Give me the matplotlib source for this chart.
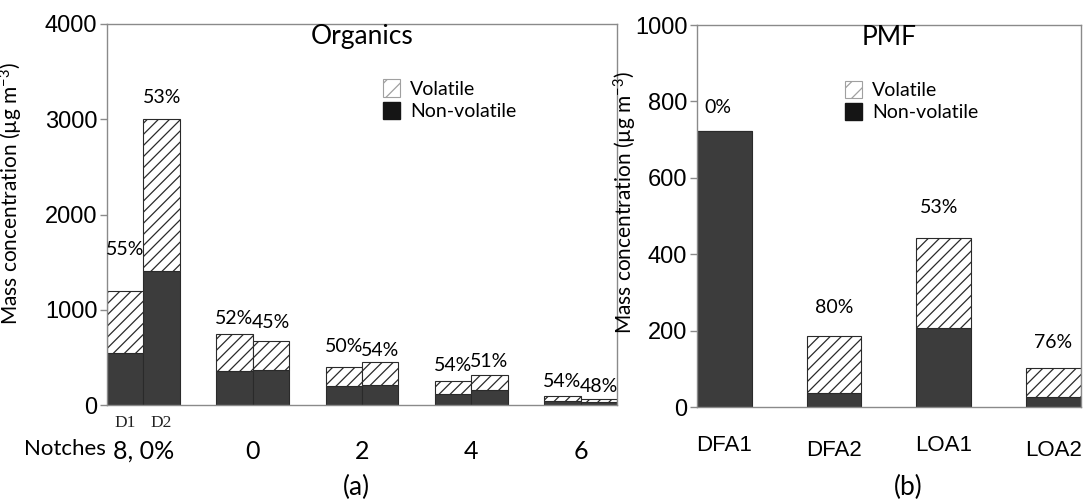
"""
Volatile vs non-volatile organic mass: (a) by notch setting, (b) by PMF factor.
"""
import numpy as np
import matplotlib

matplotlib.use("Agg")
import matplotlib.pyplot as plt
from matplotlib.patches import Patch
from matplotlib.transforms import ScaledTranslation

plt.rcParams["font.family"] = ["Lato", "DejaVu Sans"]
plt.rcParams["mathtext.fontset"] = "custom"
plt.rcParams["mathtext.rm"] = "Lato"
plt.rcParams["mathtext.it"] = "Lato:italic"
plt.rcParams["hatch.linewidth"] = 0.9

# ── data: panel (a) organics ───────────────────────────────────────
org_bar_names = ["D1", "D2"]
org_group_labels = ["8, 0%", "0", "2", "4", "6"]
org_total = [1200, 3000, 742, 675, 402, 448, 252, 315, 98, 63]
org_nonvol = [545, 1410, 355, 372, 200, 206, 116, 155, 45, 33]
org_pct = ["55%", "53%", "52%", "45%", "50%", "54%", "54%", "51%", "54%", "48%"]

# ── data: panel (b) PMF factors ────────────────────────────────────
pmf_names = ["DFA1", "DFA2", "LOA1", "LOA2"]
pmf_total = [722, 187, 442, 103]
pmf_nonvol = [722, 37, 208, 25]
pmf_pct = ["0%", "80%", "53%", "76%"]

DARK = "#3c3c3c"
EDGE = "#2a2a2a"
SPINE = "#8a8a8a"
ylab = "Mass concentration (µg m$^{-3}$)"

fig = plt.figure(figsize=(10.84, 5.0), dpi=100)
ax1 = fig.add_axes([0.0987, 0.19, 0.4705, 0.762])
ax2 = fig.add_axes([0.643, 0.186, 0.354, 0.764])

# ── (a) ────────────────────────────────────────────────────────────
org_total = np.array(org_total, dtype=float)
org_nonvol = np.array(org_nonvol, dtype=float)
xa = np.array([g * 3 + k for g in range(len(org_group_labels)) for k in (0, 1)], dtype=float)

ax1.bar(xa, org_nonvol, width=1.0, color=DARK, edgecolor=EDGE, lw=0.8, zorder=2)
ax1.bar(xa, org_total - org_nonvol, bottom=org_nonvol, width=1.0, color="white",
        edgecolor=EDGE, hatch="///", lw=0.8, zorder=2)

# label offsets above bar tops (pixels)
dy_a = [41, 22, 16, 18, 20, 12, 15, 13, 14, 12]
for x, top, txt, dy in zip(xa, org_total, org_pct, dy_a):
    ax1.annotate(txt, (x, top), xytext=(0, dy * 0.72), textcoords="offset points",
                 ha="center", va="center", fontsize=14, zorder=3)

ax1.set_xlim(-0.5, 13.5)
ax1.set_ylim(0, 4000)
ax1.set_yticks(np.arange(0, 4001, 1000))
ax1.set_xticks(xa[::2] + 0.5)
ax1.set_xticklabels(org_group_labels, fontsize=18)
ax1.set_xticks(xa[:2], minor=True)
ax1.set_xticklabels(org_bar_names, minor=True, fontsize=12.5,
                    fontfamily="Liberation Serif", color="#222222")
ax1.tick_params(axis="x", which="major", length=0, pad=25)
ax1.tick_params(axis="x", which="minor", length=0, pad=7)
ax1.text(-0.53, -0.1155, "Notches", transform=ax1.get_xaxis_transform(),
         ha="right", va="center", fontsize=16)
ax1.text(0.5, 0.966, "Organics", transform=ax1.transAxes, ha="center", va="center",
         fontsize=19)
ax1.text(0.49, -0.216, "(a)", transform=ax1.transAxes, ha="center", va="center",
         fontsize=19)
ax1.set_ylabel(ylab, fontsize=15)
ax1.yaxis.set_label_coords(-0.16, 0.556)

# ── (b) ────────────────────────────────────────────────────────────
pmf_total = np.array(pmf_total, dtype=float)
pmf_nonvol = np.array(pmf_nonvol, dtype=float)
xb = np.arange(len(pmf_names)) + 0.25

ax2.bar(xb, pmf_nonvol, width=0.5, color=DARK, edgecolor=EDGE, lw=0.8, zorder=2)
ax2.bar(xb, pmf_total - pmf_nonvol, bottom=pmf_nonvol, width=0.5, color="white",
        edgecolor=EDGE, hatch="///", lw=0.8, zorder=2)

dy_b = [24, 28, 31, 25]
dx_b = [-7, 0, -5, 0]
for x, top, txt, dy, dx in zip(xb, pmf_total, pmf_pct, dy_b, dx_b):
    ax2.annotate(txt, (x, top), xytext=(dx * 0.72, dy * 0.72), textcoords="offset points",
                 ha="center", va="center", fontsize=14, zorder=3)

ax2.set_xlim(0, 3.5)
ax2.set_ylim(0, 1000)
ax2.set_yticks(np.arange(0, 1001, 200))
ax2.set_xticks(xb)
ax2.set_xticklabels(pmf_names, fontsize=16, fontfamily="Liberation Sans")
ax2.tick_params(axis="x", length=0, pad=20)
for i, lab in enumerate(ax2.get_xticklabels()):
    if i % 2 == 1:
        lab.set_transform(lab.get_transform() + ScaledTranslation(0, -0.05, fig.dpi_scale_trans))
ax2.text(0.5, 0.966, "PMF", transform=ax2.transAxes, ha="center", va="center",
         fontsize=19)
ax2.text(0.55, -0.21, "(b)", transform=ax2.transAxes, ha="center", va="center",
         fontsize=19)
ax2.set_ylabel(ylab, fontsize=15)
ax2.yaxis.set_label_coords(-0.15, 0.534)

# ── shared styling ────────────────────────────────────────────────
handles = [Patch(facecolor="white", edgecolor="#a0a0a0", hatch="//", lw=0.8),
           Patch(facecolor="#151515", edgecolor="#151515")]
for ax, anchor in ((ax1, (0.525, 0.875)), (ax2, (0.365, 0.875))):
    for sp in ax.spines.values():
        sp.set_color(SPINE)
        sp.set_linewidth(1.0)
    ax.tick_params(axis="y", labelsize=17, length=5, color=SPINE, width=1.0, pad=2)
    for lab in ax.get_yticklabels():
        lab.set_fontfamily("Liberation Sans")
    ax.legend(handles, ["Volatile", "Non-volatile"], loc="upper left",
              bbox_to_anchor=anchor, frameon=False, fontsize=14,
              handlelength=0.9, handleheight=1.0, handletextpad=0.5,
              labelspacing=0.2, borderaxespad=0)

fig.savefig("out.png", dpi=100)
